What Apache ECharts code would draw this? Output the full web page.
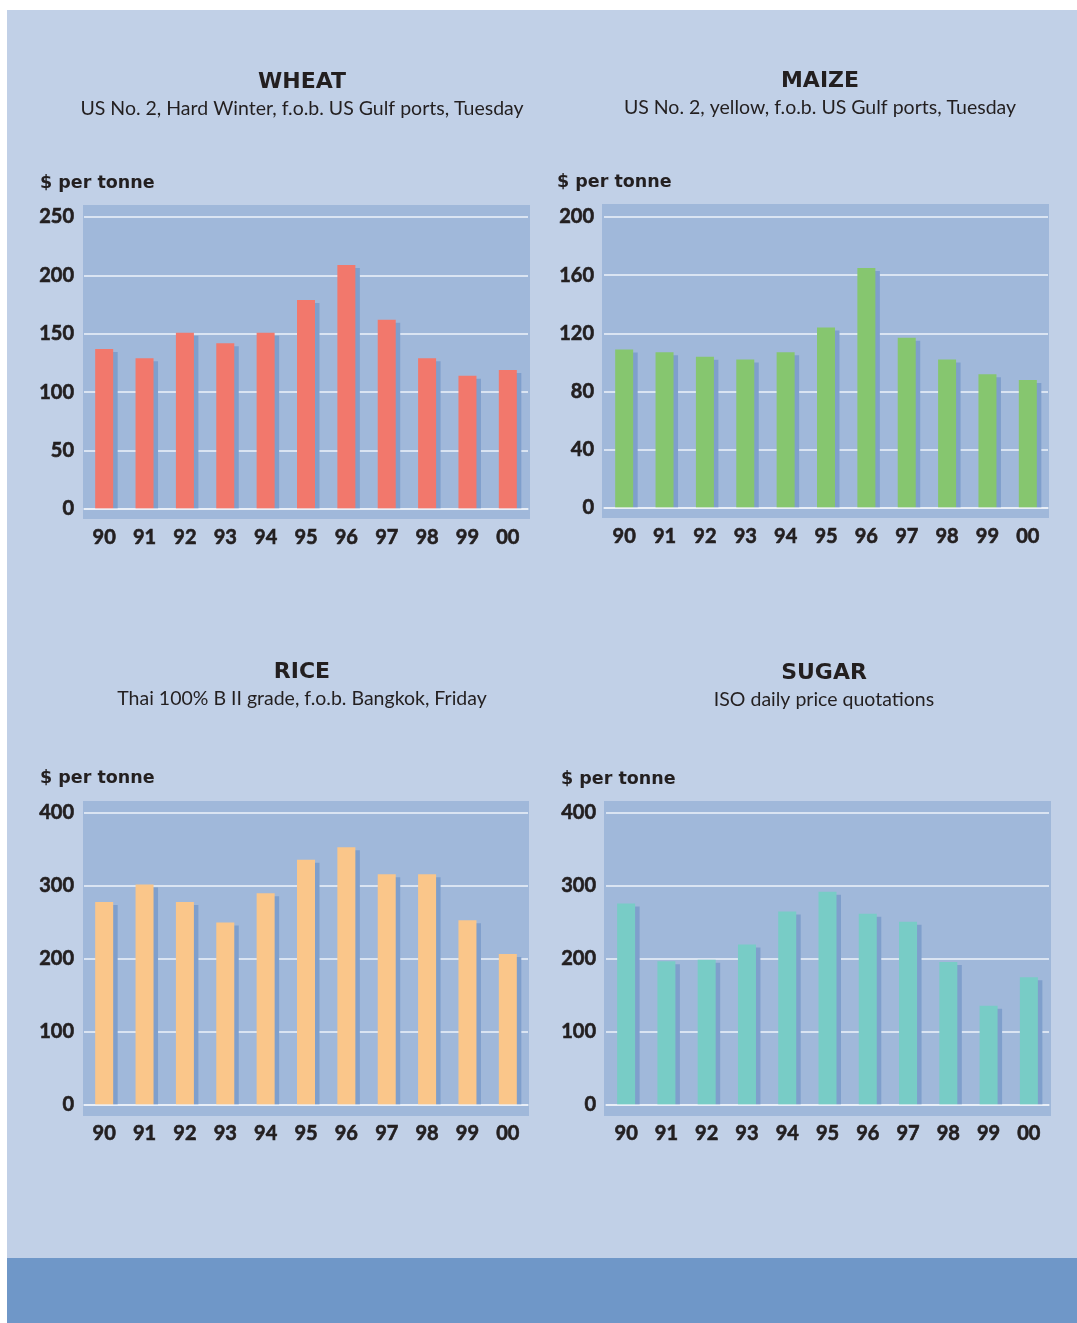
<!DOCTYPE html>
<html>
<head>
<meta charset="utf-8">
<title>Commodity prices</title>
<script src="https://cdn.jsdelivr.net/npm/echarts@6/dist/echarts.min.js"></script>
<style>
  html, body { margin: 0; padding: 0; background: #ffffff; }
  #chart { width: 1077px; height: 1323px; }
</style>
</head>
<body>
<div id="chart"></div>
<script>
// Year labels shared by all four panels
const years = ['90', '91', '92', '93', '94', '95', '96', '97', '98', '99', '00'];

// Annual prices, $ per tonne
const wheatPrices = [137, 129, 151, 142, 151, 179, 209, 162, 129, 114, 119];
const maizePrices = [109, 107, 104, 102, 107, 124, 165, 117, 102, 92, 88];
const ricePrices  = [278, 302, 278, 250, 290, 336, 353, 316, 316, 253, 207];
const sugarPrices = [276, 197, 199, 220, 265, 292, 262, 251, 196, 136, 175];

// Value-axis ranges and steps
const wheatAxis = { max: 250, interval: 50 };
const maizeAxis = { max: 200, interval: 40 };
const riceAxis  = { max: 400, interval: 100 };
const sugarAxis = { max: 400, interval: 100 };

// Headings
const titles = ['WHEAT', 'MAIZE', 'RICE', 'SUGAR'];
const subtitles = [
  'US No. 2, Hard Winter, f.o.b. US Gulf ports, Tuesday',
  'US No. 2, yellow, f.o.b. US Gulf ports, Tuesday',
  'Thai 100% B II grade, f.o.b. Bangkok, Friday',
  'ISO daily price quotations'
];
const unitLabel = '$ per tonne';

const INK = '#231f20';
const PAGE = '#c1d0e7';
const BAND = '#6f97c8';
const PLOT = '#a0b8da';
const SHADE = '#7f9fcc';
const GRIDLINE = '#eef3fa';
const FONT = 'Lato, "Open Sans", sans-serif';
const HEAVY = '"DejaVu Sans", Lato, sans-serif';

const panels = [
  { values: wheatPrices, axis: wheatAxis, color: '#f2786c',
    grid: { left: 84, top: 217, width: 444, height: 292 },
    bg: [83, 205, 447, 314], titleX: 302, titleY: 71, unitX: 40, unitY: 183 },
  { values: maizePrices, axis: maizeAxis, color: '#86c66f',
    grid: { left: 604, top: 217, width: 444, height: 291 },
    bg: [602, 204, 447, 314], titleX: 820, titleY: 70, unitX: 557, unitY: 182 },
  { values: ricePrices, axis: riceAxis, color: '#fac68a',
    grid: { left: 84, top: 813, width: 444, height: 292 },
    bg: [83, 801, 446, 315], titleX: 302, titleY: 661, unitX: 40, unitY: 778 },
  { values: sugarPrices, axis: sugarAxis, color: '#78ccc6',
    grid: { left: 606, top: 813, width: 443, height: 292 },
    bg: [604, 801, 447, 315], titleX: 824, titleY: 662, unitX: 561, unitY: 779 }
];

// Each bar is drawn with a slate-blue offset block behind it
function barWithShade(color) {
  return function (params, api) {
    const top = api.coord([api.value(0), api.value(1)]);
    const base = api.coord([api.value(0), 0]);
    const w = 18, dx = 4.5, dy = 3;
    const x0 = top[0] - w / 2;
    return {
      type: 'group',
      children: [
        { type: 'rect',
          shape: { x: x0 + dx, y: top[1] + dy, width: w, height: Math.max(0, base[1] - top[1] - dy) },
          style: { fill: SHADE } },
        { type: 'rect',
          shape: { x: x0, y: top[1], width: w, height: base[1] - top[1] },
          style: { fill: color } }
      ]
    };
  };
}

const graphic = [
  { type: 'rect', z: -10, shape: { x: 7, y: 10, width: 1070, height: 1248 }, style: { fill: PAGE } },
  { type: 'rect', z: -10, shape: { x: 7, y: 1258, width: 1070, height: 65 }, style: { fill: BAND } }
];
const title = [];
const grid = [];
const xAxis = [];
const yAxis = [];
const series = [];

const labelStyle = {
  color: INK, fontFamily: FONT, fontWeight: 'bold', fontSize: 20,
  textBorderColor: INK, textBorderWidth: 0.6
};

panels.forEach(function (p, i) {
  graphic.push({ type: 'rect', z: -9,
    shape: { x: p.bg[0], y: p.bg[1], width: p.bg[2], height: p.bg[3] },
    style: { fill: PLOT } });
  graphic.push({ type: 'text', z: 5, x: p.unitX, y: p.unitY,
    style: { text: unitLabel, fill: INK, font: 'bold 17.5px ' + HEAVY,
             textAlign: 'left', textVerticalAlign: 'middle' } });

  title.push({
    text: titles[i], subtext: subtitles[i],
    left: p.titleX, top: p.titleY, textAlign: 'center', padding: 0, itemGap: 6,
    textStyle: { fontFamily: HEAVY, fontWeight: 'bold', fontSize: 22, color: INK },
    subtextStyle: { fontFamily: FONT, fontWeight: 400, fontSize: 19.5, color: INK }
  });

  grid.push(Object.assign({ containLabel: false }, p.grid));

  xAxis.push({
    type: 'category', gridIndex: i, data: years,
    z: 5,
    axisLine: { show: true, lineStyle: { color: GRIDLINE, width: 1.5, opacity: 0.85 } },
    axisTick: { show: false },
    axisLabel: Object.assign({ margin: 19 }, labelStyle)
  });

  yAxis.push({
    type: 'value', gridIndex: i, min: 0, max: p.axis.max, interval: p.axis.interval,
    axisLine: { show: false }, axisTick: { show: false },
    splitLine: { show: true, lineStyle: { color: GRIDLINE, width: 1.5 } },
    axisLabel: Object.assign({ margin: 10 }, labelStyle)
  });

  series.push({
    type: 'custom', xAxisIndex: i, yAxisIndex: i,
    renderItem: barWithShade(p.color),
    encode: { x: 0, y: 1 },
    data: p.values.map(function (v, k) { return [k, v]; }),
    silent: true
  });
});

const chart = echarts.init(document.getElementById('chart'), null, { renderer: 'canvas' });
chart.setOption({
  backgroundColor: '#ffffff',
  animation: false,
  graphic: graphic,
  title: title,
  grid: grid,
  xAxis: xAxis,
  yAxis: yAxis,
  series: series
});
</script>
</body>
</html>
